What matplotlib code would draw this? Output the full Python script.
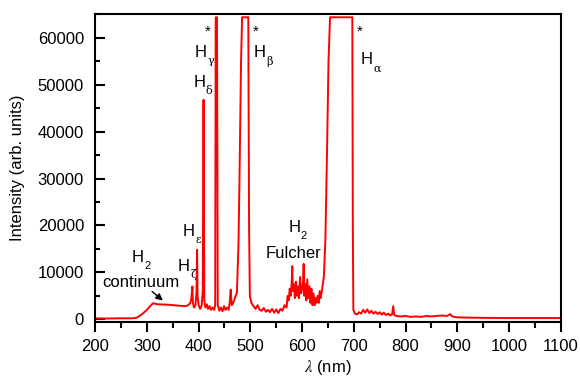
import numpy as np
import matplotlib.pyplot as plt
from matplotlib.ticker import MultipleLocator

plt.rcParams['font.family'] = ['Liberation Sans', 'DejaVu Sans']
plt.rcParams['mathtext.fontset'] = 'stix'

# spectrum (nm, counts)
wavelength = [200, 220, 250, 270, 280, 290, 300, 308, 312, 320, 340, 360, 375, 380, 384,
              386, 388, 389, 391, 394, 396, 397, 398, 400, 403, 406, 408, 409.5, 411,
              413, 416, 418, 421, 424, 427, 430, 432, 433, 435.5, 437, 440, 443, 446,
              449, 452, 455, 458, 460, 462, 464, 467, 470, 474, 477, 479, 482, 484, 496,
              497.5, 499, 502, 506, 510, 514, 518, 522, 526, 530, 534, 538, 542, 546,
              550, 554, 558, 562, 566, 570, 572, 574, 576, 578, 580, 581, 582, 584, 586,
              588, 590, 592, 594, 596, 598, 600, 602, 603, 604, 606, 608, 610, 612, 614,
              616, 618, 620, 622, 624, 626, 628, 630, 632, 634, 636, 638, 642, 645, 648,
              651, 654, 697, 698, 699, 702, 706, 710, 714, 718, 722, 726, 730, 734, 738,
              742, 746, 750, 754, 758, 762, 766, 770, 774, 776, 778, 782, 790, 800, 810,
              820, 830, 840, 850, 860, 870, 880, 886, 890, 900, 920, 950, 1000, 1050, 1100]
intensity = [200, 150, 200, 200, 300, 1000, 2000, 3000, 3400, 3200, 3100, 2900, 2800, 3000, 3500,
             4500, 7000, 3500, 2500, 3000, 6000, 14800, 5000, 3000, 2200, 3000, 6000, 46800, 4000,
             2500, 3200, 2200, 2800, 2000, 2500, 2000, 3000, 64400, 64400, 3000, 1800, 2500, 1700,
             2800, 2000, 2500, 2000, 3500, 6300, 3000, 3500, 4500, 5700, 16000, 30000, 55000, 64400, 64400,
             20000, 5000, 3500, 2800, 2200, 3000, 2000, 1800, 2400, 1600, 2000, 1500, 2200, 1400,
             2100, 1300, 2200, 1800, 3000, 2500, 5000, 4000, 6500, 5000, 8000, 11300, 6000, 7500, 4500,
             8000, 5000, 7000, 4500, 9000, 5500, 6500, 8000, 11800, 5000, 7500, 4000, 8500, 4500, 7000,
             3500, 6500, 3000, 5500, 3000, 4500, 3500, 5000, 3500, 6000, 4500, 6000, 9000, 17000, 35000,
             55000, 64400, 64400, 20000, 2000, 1200, 1000, 1500, 1200, 2000, 1400, 2100, 1300, 1800, 1200,
             1600, 1100, 1500, 1000, 1400, 900, 1200, 800, 1100, 2800, 900, 700, 600, 700, 500,
             600, 500, 700, 600, 700, 800, 700, 1100, 600, 400, 350, 300, 250, 250, 250]

# line labels: (x of left edge of "H", y of its centre, subscript)
line_labels = [(393, 56800, 'γ'), (390, 50400, 'δ'), (507, 56800, 'β'), (713, 55300, 'α'),
               (370, 18700, 'ε'), (360, 11300, 'ζ'), (271, 13200, '2'), (573, 19600, '2')]
stars = [417, 511, 711]

fig, ax = plt.subplots(figsize=(5.8, 3.78), dpi=100)
fig.subplots_adjust(left=0.164, right=0.967, top=0.963, bottom=0.148)

ax.plot(wavelength, intensity, color='red', lw=1.4)

ax.set_xlim(200, 1100)
ax.set_ylim(-600, 65100)
ax.xaxis.set_major_locator(MultipleLocator(100))
ax.xaxis.set_minor_locator(MultipleLocator(50))
ax.yaxis.set_major_locator(MultipleLocator(10000))
ax.yaxis.set_minor_locator(MultipleLocator(5000))
ax.tick_params(axis='x', which='major', direction='out', length=7, width=1.5, labelsize=12, pad=5)
ax.tick_params(axis='x', which='minor', direction='out', length=4.5, width=1.5)
ax.tick_params(axis='y', which='major', direction='in', length=7, width=1.5, labelsize=12, pad=8)
ax.tick_params(axis='y', which='minor', direction='in', length=3.5, width=1.5)
for s in ax.spines.values():
    s.set_linewidth(1.5)

ax.set_xlabel(r'$\lambda$ (nm)', fontsize=12, labelpad=3)
ax.set_ylabel('Intensity (arb. units)', fontsize=12)
ax.yaxis.set_label_coords(-0.150, 0.5)

for x, y, sub in line_labels:
    ax.text(x, y, 'H', fontsize=12, va='center', ha='left')
    if sub == '2':
        ax.annotate(sub, xy=(x, y), xytext=(9, -6), textcoords='offset points',
                    fontsize=8, va='center', ha='left')
    else:
        ax.annotate(sub, xy=(x, y), xytext=(9, -6), textcoords='offset points',
                    fontsize=8, va='center', ha='left', family='DejaVu Serif')
for x in stars:
    ax.text(x, 60400, '*', fontsize=11, ha='center')

ax.text(583, 14000, 'Fulcher', fontsize=12, ha='center', va='center')
ax.text(288, 7900, 'continuum', fontsize=12, ha='center', va='center')
ax.annotate('', xy=(335, 3600), xytext=(306, 6300),
            arrowprops=dict(arrowstyle='-|>', color='black', lw=1, mutation_scale=10))

plt.savefig('out.png', dpi=100)
